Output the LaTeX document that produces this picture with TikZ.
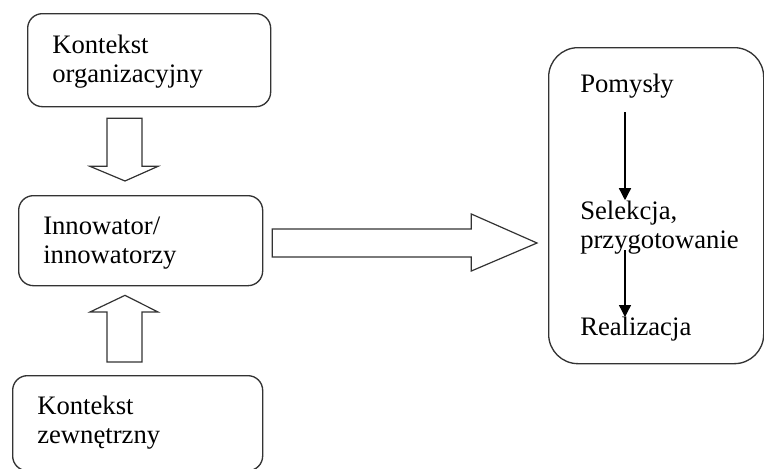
\documentclass[tikz,border=0pt]{standalone}
\usepackage{fontspec}
\setmainfont{Liberation Serif}
\usetikzlibrary{arrows.meta,calc}
\begin{document}
\begin{tikzpicture}[x=0.75pt,y=-0.75pt,
  box/.style={draw=black!80,line width=1pt,rounded corners=11pt,anchor=north west,inner sep=0pt},
  lbl/.style={anchor=base west,align=left,inner sep=0pt,font=\fontsize{20}{21.75}\selectfont},
  blockarrow/.style={draw=black!80,line width=0.9pt,fill=white,line join=miter},
  flow/.style={-{Triangle[width=9pt,length=9pt]},line width=1pt,black}]
\useasboundingbox (0,0) rectangle (764,468);
% boxes
\node[box,minimum width=182.25pt,minimum height=69.75pt] (b1) at (27,13) {};
\node[box,minimum width=183pt,minimum height=67.5pt] (b2) at (18,195) {};
\node[box,minimum width=187.5pt,minimum height=71.25pt] (b3) at (12,375) {};
\node[box,rounded corners=22pt,minimum width=161.25pt,minimum height=237pt] (b4) at (548,47) {};
% texts (anchor = baseline of last line)
\node[lbl] (t1) at (52,82) {Kontekst\\organizacyjny};
\node[lbl] (t2) at (43,263) {Innowator/\\innowatorzy};
\node[lbl] (t3) at (37,443) {Kontekst\\zewnętrzny};
\node[lbl] (p1) at (580,92) {Pomysły};
\node[lbl] (p2) at (580,248) {Selekcja,\\przygotowanie};
\node[lbl] (p3) at (580,335) {Realizacja};
% block arrow down (b1 -> b2)
\coordinate (ax) at (125,0);
\draw[blockarrow] ($(b1.south -| ax)+(-18,11)$) -- ++(35,0) -- ++(0,48) -- ++(16,0)
  -- ($(b2.north -| ax)+(0,-14)$) -- ($(b1.south -| ax)+(-35,59)$) -- ++(17,0) -- cycle;
% block arrow up (b3 -> b2)
\draw[blockarrow] ($(b3.north -| ax)+(-18,-13)$) -- ++(35,0) -- ++(0,-50) -- ++(16,0)
  -- ($(b2.south -| ax)+(0,9)$) -- ($(b3.north -| ax)+(-35,-63)$) -- ++(17,0) -- cycle;
% big arrow right (b2 -> b4)
\coordinate (ay) at (0,243);
\draw[blockarrow] ($(b2.east |- ay)+(9,-14)$) -- ++(199,0) -- ++(0,-15) -- ($(b4.west |- ay)+(-11,0)$)
  -- ($(b2.east |- ay)+(208,28)$) -- ++(0,-14) -- ++(-199,0) -- cycle;
% flow arrows
\coordinate (fx) at (625,0);
\draw[flow] ($(p1.base -| fx)+(0,20)$) -- ($(p2.north -| fx)+(0,0)$);
\draw[flow] ($(p2.base -| fx)+(0,2)$) -- ($(p3.base -| fx)+(0,-18)$);
\end{tikzpicture}
\end{document}
